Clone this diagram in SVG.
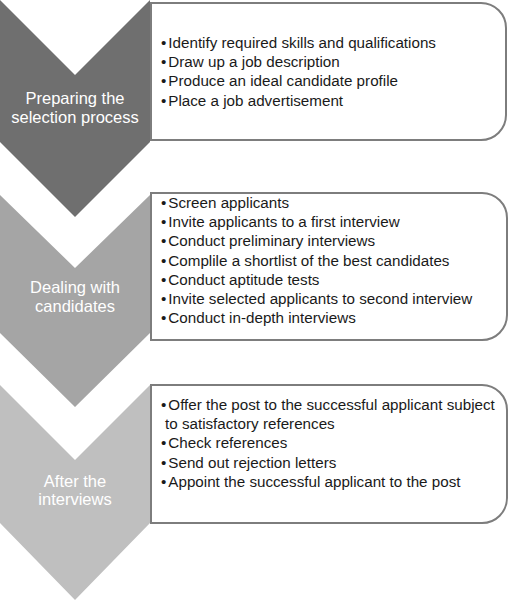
<svg xmlns="http://www.w3.org/2000/svg" width="511" height="600" viewBox="0 0 511 600">
<style>
.box{fill:#fff;stroke:#7d7d7d;stroke-width:2}
.lbl{font-family:"Liberation Sans",Arial,sans-serif;font-size:16.5px;fill:#fff;text-anchor:middle}
.txt{font-family:"Liberation Sans",Arial,sans-serif;font-size:15.2px;fill:#1a1a1a}
</style>
<rect width="511" height="600" fill="#fff"/>
<g id="stage1">
<path d="M0,0 L75,75 L150,0 L150,142 L75,217 L0,142 Z" fill="#6f6f6f"/>
<path class="box" d="M151,3 H481 A25,25 0 0 1 506,28 V115 A25,25 0 0 1 481,140 H151 Z"/>
<text class="lbl" x="75" y="104">Preparing the</text>
<text class="lbl" x="75" y="123">selection process</text>
<text class="txt" x="161" y="48">•<tspan dx="2">Identify required skills and qualifications</tspan></text>
<text class="txt" x="161" y="67">•<tspan dx="2">Draw up a job description</tspan></text>
<text class="txt" x="161" y="86">•<tspan dx="2">Produce an ideal candidate profile</tspan></text>
<text class="txt" x="161" y="106">•<tspan dx="2">Place a job advertisement</tspan></text>
</g>
<g id="stage2">
<path d="M0,195 L75,268 L150,195 L150,333 L75,407 L0,333 Z" fill="#a5a5a5"/>
<path class="box" d="M151,193 H482 A25,25 0 0 1 507,218 V315 A25,25 0 0 1 482,340 H151 Z"/>
<text class="lbl" x="75" y="293">Dealing with</text>
<text class="lbl" x="75" y="312">candidates</text>
<text class="txt" x="161" y="208">•<tspan dx="2">Screen applicants</tspan></text>
<text class="txt" x="161" y="227">•<tspan dx="2">Invite applicants to a first interview</tspan></text>
<text class="txt" x="161" y="246">•<tspan dx="2">Conduct preliminary interviews</tspan></text>
<text class="txt" x="161" y="266">•<tspan dx="2">Complile a shortlist of the best candidates</tspan></text>
<text class="txt" x="161" y="285">•<tspan dx="2">Conduct aptitude tests</tspan></text>
<text class="txt" x="161" y="304">•<tspan dx="2">Invite selected applicants to second interview</tspan></text>
<text class="txt" x="161" y="323">•<tspan dx="2">Conduct in-depth interviews</tspan></text>
</g>
<g id="stage3">
<path d="M0,385 L75,460 L150,385 L150,523 L75,600 L0,523 Z" fill="#bfbfbf"/>
<path class="box" d="M151,385 H482 A25,25 0 0 1 507,410 V498 A25,25 0 0 1 482,523 H151 Z"/>
<text class="lbl" x="75" y="487">After the</text>
<text class="lbl" x="75" y="505">interviews</text>
<text class="txt" x="161" y="410">•<tspan dx="2">Offer the post to the successful applicant subject</tspan></text>
<text class="txt" x="165" y="429">to satisfactory references</text>
<text class="txt" x="161" y="448">•<tspan dx="2">Check references</tspan></text>
<text class="txt" x="161" y="468">•<tspan dx="2">Send out rejection letters</tspan></text>
<text class="txt" x="161" y="487">•<tspan dx="2">Appoint the successful applicant to the post</tspan></text>
</g>
<g id="connectors"/>
</svg>
